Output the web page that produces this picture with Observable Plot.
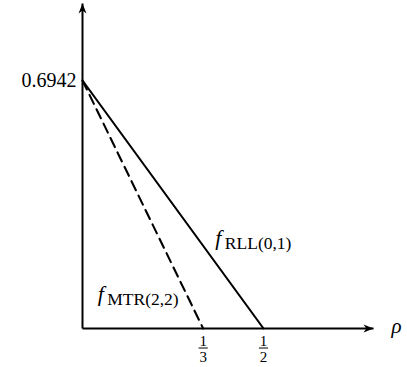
<!DOCTYPE html>
<html>
<head>
<meta charset="utf-8">
<script src="https://cdn.jsdelivr.net/npm/d3@7"></script>
<script src="https://cdn.jsdelivr.net/npm/@observablehq/plot@0.6"></script>
<style>
  html, body { margin: 0; padding: 0; background: #fff; }
  #chart svg { display: block; }
</style>
</head>
<body>
<div id="chart"></div>
<script>
// Two linear bounds that share the same intercept on the vertical axis
const intercept = 0.6942;
const seriesNames = ["RLL(0,1)", "MTR(2,2)"];
const roots = [1 / 2, 1 / 3];
const dashed = [false, true];

// Fraction labels under the horizontal axis
const tickValues = [1 / 3, 1 / 2];
const tickNumerators = ["1", "1"];
const tickDenominators = ["3", "2"];

// Where the axes (with their arrowheads) end, in data units
const xAxisEnd = 0.804;
const yAxisEnd = 0.91;

// Anchor points of the curve names
const labelX = [0.367, 0.042];
const labelY = [0.235, 0.078];

const serif = "'Liberation Serif', 'DejaVu Serif', serif";

const segments = seriesNames.map((name, i) => [
  {name, x: 0, y: intercept},
  {name, x: roots[i], y: 0}
]);

// Filled "stealth" arrowhead, tip at the origin, pointing up
const stealth = {
  draw(ctx) {
    ctx.moveTo(0, 0);
    ctx.lineTo(4, 10);
    ctx.lineTo(0, 7.2);
    ctx.lineTo(-4, 10);
    ctx.closePath();
  }
};
// Short horizontal stroke used as a fraction bar
const fracBar = {
  draw(ctx) {
    ctx.moveTo(-4.6, 0);
    ctx.lineTo(4.6, 0);
  }
};

const ticks = tickValues.map((v, i) => ({x: v, num: tickNumerators[i], den: tickDenominators[i]}));
const labels = seriesNames.map((name, i) => ({x: labelX[i], y: labelY[i], sub: name}));

const chart = Plot.plot({
  width: 407,
  height: 367,
  margin: 0,
  style: {background: "#fff", fontFamily: serif, color: "#000"},
  x: {domain: [0, 0.5], range: [82, 263], axis: null},
  y: {domain: [0, intercept], range: [328, 80], axis: null},
  marks: [
    // axes
    Plot.link([{x1: 0, y1: 0, x2: xAxisEnd, y2: 0}], {x1: "x1", y1: "y1", x2: "x2", y2: "y2", stroke: "#000", strokeWidth: 2}),
    Plot.link([{x1: 0, y1: 0, x2: 0, y2: yAxisEnd}], {x1: "x1", y1: "y1", x2: "x2", y2: "y2", stroke: "#000", strokeWidth: 2}),
    Plot.dot([{x: xAxisEnd, y: 0}], {x: "x", y: "y", symbol: stealth, fill: "#000", stroke: "none", rotate: 90}),
    Plot.dot([{x: 0, y: yAxisEnd}], {x: "x", y: "y", symbol: stealth, fill: "#000", stroke: "none"}),
    // the two bounds
    ...segments.map((seg, i) =>
      Plot.line(seg, {x: "x", y: "y", stroke: "#000", strokeWidth: 2.1,
        strokeDasharray: dashed[i] ? "10,6" : null})
    ),
    // intercept value
    Plot.text([intercept], {x: () => 0, y: d => d, text: d => String(d), textAnchor: "end",
      lineAnchor: "bottom", dx: -6, dy: 6, fontSize: 20, fill: "#000"}),
    // fraction tick labels
    Plot.text(ticks, {x: "x", y: () => 0, text: "num", lineAnchor: "bottom", dy: 17, fontSize: 15, fill: "#000"}),
    Plot.dot(ticks, {x: "x", y: () => 0, symbol: fracBar, stroke: "#000", strokeWidth: 1, fill: "none", dy: 19.5}),
    Plot.text(ticks, {x: "x", y: () => 0, text: "den", lineAnchor: "bottom", dy: 33, fontSize: 15, fill: "#000"}),
    // axis name
    Plot.text(["ρ"], {x: () => xAxisEnd, y: () => 0, text: d => d, dx: 23, dy: 4,
      lineAnchor: "bottom", fontSize: 21, fontStyle: "italic", fill: "#000"}),
    // curve names: italic f with a roman subscript
    Plot.text(labels, {x: "x", y: "y", text: () => "f", textAnchor: "start", lineAnchor: "bottom",
      fontSize: 22, fontStyle: "italic", fill: "#000"}),
    Plot.text(labels, {x: "x", y: "y", text: "sub", textAnchor: "start", lineAnchor: "bottom",
      dx: 9.5, dy: 4, fontSize: 17.5, fill: "#000"})
  ]
});

document.getElementById("chart").appendChild(chart);
</script>
</body>
</html>
